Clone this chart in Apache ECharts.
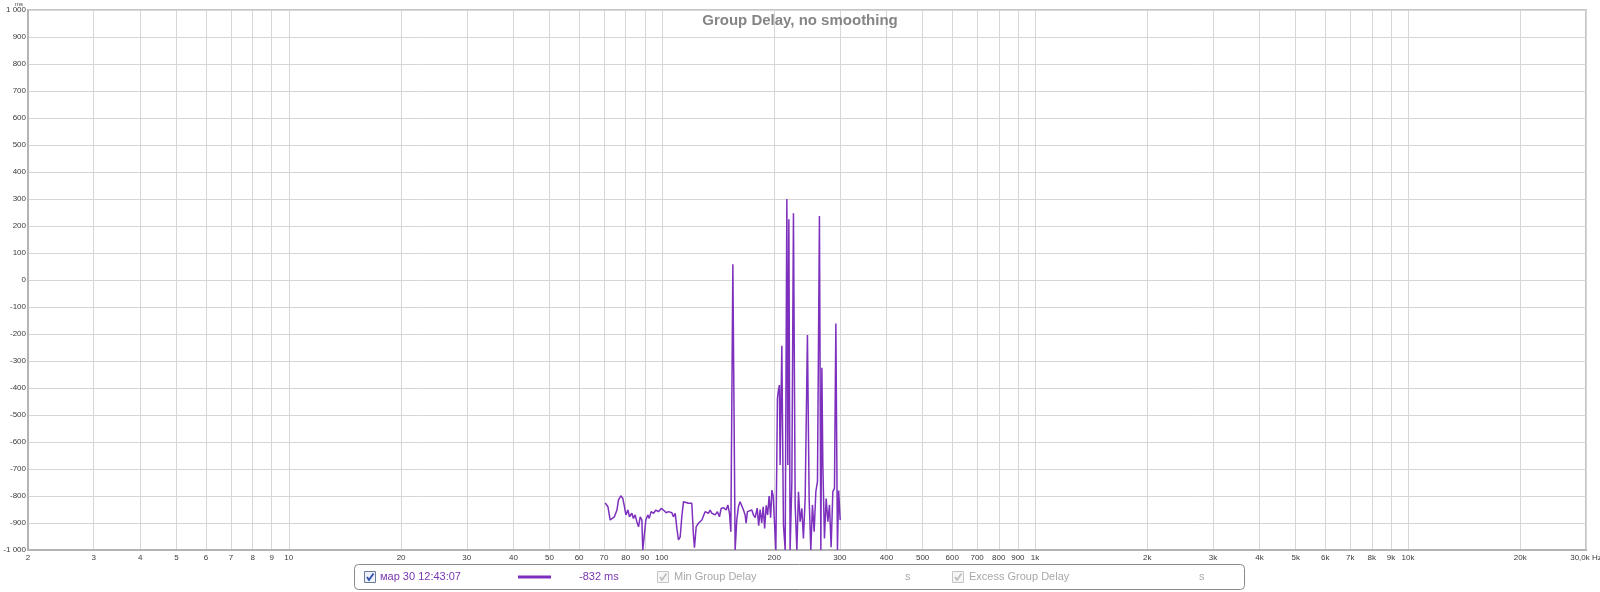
<!DOCTYPE html>
<html>
<head>
<meta charset="utf-8">
<script src="https://cdn.jsdelivr.net/npm/echarts@6/dist/echarts.min.js"></script>
<style>
html,body{margin:0;padding:0;background:#fff;}
#chart{width:1600px;height:592px;}
</style>
</head>
<body>
<div id="chart"></div>
<script>
// ---- data (frequency in Hz, group delay in ms) ----
const freqHz = [70.5,71.7,72.7,73.4,74.6,75.8,76.5,77.6,78.6,79.4,80.1,81.1,81.9,83.1,83.9,84.8,85.7,86.6,87.5,88.4,88.9,89.8,90.6,91.7,92.5,93.6,95.0,96.4,97.9,99.6,
 101.0,102.7,104.2,105.3,106.4,107.4,108.6,109.7,110.8,112.0,113.1,114.3,115.5,117.8,120.3,121.5,122.3,123.6,125.3,126.7,128.0,129.3,130.6,132.0,133.3,134.7,136.2,137.5,139.0,140.9,142.7,144.2,146.2,148.7,150.3,151.8,153.1,155.0,157.2,158.8,160.4,162.1,163.8,165.5,167.2,168.2,169.6,171.7,174.3,176.0,
 177.9,180.1,181.8,183.4,185.2,186.9,188.6,190.4,192.1,193.9,195.7,197.2,198.8,202.1,204.1,205.4,206.6,207.5,209.7,211.8,214.1,216.3,217.6,219.0,220.7,223.1,225.3,227.7,230.1,232.4,234.8,237.3,239.6,242.2,245.6,248.2,250.8,253.3,256.0,258.7,261.3,264.5,266.8,268.5,270.1,272.8,275.7,278.6,281.4,284.3,287.3,290.2,292.7,295.6,297.8,300.6];
const delayMs = [-826,-840,-889,-895,-877,-852,-815,-799,-809,-840,-870,-852,-877,-864,-883,-870,-895,-914,-877,-889,-1000,-1000,-889,-870,-883,-858,-864,-852,-858,-846,
 -852,-862,-858,-864,-862,-877,-864,-919,-963,-951,-877,-821,-817,-827,-827,-941,-991,-914,-901,-907,-889,-895,-858,-852,-864,-852,-864,-858,-870,-858,-877,-846,-843,-852,-833,-864,-932,58,-1000,-889,-840,-821,-827,-852,-870,-901,-858,-864,-852,-870,
 -880,-845,-910,-850,-900,-840,-920,-835,-870,-800,-880,-778,-800,-1000,-438,-407,-389,-685,-244,-907,-1000,300,-685,225,-1000,-747,247,-833,-1000,-784,-895,-846,-957,-809,-204,-809,-1000,-833,-932,-784,-747,237,-1000,-325,-685,-957,-809,-895,-833,-990,-784,-772,-161,-1000,-780,-889];

const xTickValues = [2,3,4,5,6,7,8,9,10,20,30,40,50,60,70,80,90,100,200,300,400,500,600,700,800,900,1000,2000,3000,4000,5000,6000,7000,8000,9000,10000,20000,30000];
const xTickLabels = ['2','3','4','5','6','7','8','9','10','20','30','40','50','60','70','80','90','100','200','300','400','500','600','700','800','900','1k','2k','3k','4k','5k','6k','7k','8k','9k','10k','20k','30,0k Hz'];

const legendName = 'мар 30 12:43:07';
const legendValue = '-832 ms';
const legendOthers = ['Min Group Delay', 'Excess Group Delay'];

const seriesData = freqHz.map((f, i) => [f, delayMs[i]]);

const chart = echarts.init(document.getElementById('chart'), null, {renderer: 'canvas'});
const FONT = 'Liberation Sans, Arial, sans-serif';
const purple = '#7d2fbd';

function checkbox(x, y, enabled) {
  const border = enabled ? '#6b7c9a' : '#c4c4c4';
  const fill = enabled ? '#eef1f7' : '#f6f6f6';
  const tick = enabled ? '#2c4fb5' : '#c0c0c0';
  return [
    {type: 'rect', shape: {x: x, y: y, width: 11, height: 11}, style: {fill: fill, stroke: border, lineWidth: 1}},
    {type: 'polyline', shape: {points: [[x + 2.5, y + 5.5], [x + 4.5, y + 8.5], [x + 9, y + 2]]}, style: {stroke: tick, lineWidth: 1.8, fill: null}}
  ];
}

const ly = 577;
const graphics = [
  {type: 'text', left: 15, top: 1, style: {text: 'ms', font: '6px ' + FONT, fill: '#444'}},
  {type: 'rect', shape: {x: 354.5, y: 564.5, width: 890, height: 25, r: 4}, style: {fill: '#fff', stroke: '#8a8a8a', lineWidth: 1}},
  ...checkbox(364.5, 571.5, true),
  {type: 'text', x: 380, y: ly, style: {text: legendName, font: '11px ' + FONT, fill: '#7a35b0', verticalAlign: 'middle'}},
  {type: 'line', shape: {x1: 518, y1: ly, x2: 551, y2: ly}, style: {stroke: purple, lineWidth: 3}},
  {type: 'text', x: 579, y: ly, style: {text: legendValue, font: '11px ' + FONT, fill: '#7a35b0', verticalAlign: 'middle'}},
  ...checkbox(657.5, 571.5, false),
  {type: 'text', x: 674, y: ly, style: {text: legendOthers[0], font: '11px ' + FONT, fill: '#a8a8a8', verticalAlign: 'middle'}},
  {type: 'text', x: 905, y: ly, style: {text: 's', font: '11px ' + FONT, fill: '#a8a8a8', verticalAlign: 'middle'}},
  ...checkbox(952.5, 571.5, false),
  {type: 'text', x: 969, y: ly, style: {text: legendOthers[1], font: '11px ' + FONT, fill: '#a8a8a8', verticalAlign: 'middle'}},
  {type: 'text', x: 1199, y: ly, style: {text: 's', font: '11px ' + FONT, fill: '#a8a8a8', verticalAlign: 'middle'}}
];

const option = {
  animation: false,
  backgroundColor: '#fff',
  title: {
    text: 'Group Delay, no smoothing',
    left: 'center', top: 8,
    textStyle: {fontFamily: FONT, fontSize: 15, fontWeight: 'bold', color: '#858585'}
  },
  grid: {left: 28, right: 14, top: 10, bottom: 42, containLabel: false, outerBoundsMode: 'none',
         show: true, borderColor: '#c6c6c6', borderWidth: 2, backgroundColor: 'transparent'},
  xAxis: {
    type: 'log', logBase: 10, min: 2, max: 30000,
    axisLine: {show: true, onZero: false, lineStyle: {color: '#b4b4b4', width: 2}},
    axisTick: {show: false, customValues: xTickValues},
    splitLine: {show: true, lineStyle: {color: '#d6d6d6', width: 1}},
    minorSplitLine: {show: false},
    axisLabel: {
      customValues: xTickValues,
      showMinLabel: true, showMaxLabel: true, hideOverlap: false,
      margin: 4, fontSize: 8, fontFamily: FONT, color: '#3a3a3a',
      formatter: function (v) {
        const i = xTickValues.findIndex(t => Math.abs(t - v) / t < 1e-6);
        return i >= 0 ? xTickLabels[i] : '';
      }
    }
  },
  yAxis: {
    type: 'value', min: -1000, max: 1000, interval: 100,
    axisLine: {show: true, lineStyle: {color: '#b4b4b4', width: 2}},
    axisTick: {show: false},
    splitLine: {show: true, lineStyle: {color: '#d6d6d6', width: 1}},
    axisLabel: {
      margin: 2, fontSize: 8, fontFamily: FONT, color: '#3a3a3a',
      formatter: function (v) {
        const a = Math.abs(v);
        const s = a >= 1000 ? Math.floor(a / 1000) + ' ' + String(a % 1000).padStart(3, '0') : String(a);
        return (v < 0 ? '-' : '') + s;
      }
    }
  },
  series: [{
    type: 'line',
    data: seriesData,
    showSymbol: false,
    symbol: 'none',
    clip: true,
    lineStyle: {color: purple, width: 1.5},
    z: 5
  }],
  graphic: graphics
};
chart.setOption(option);
</script>
</body>
</html>
